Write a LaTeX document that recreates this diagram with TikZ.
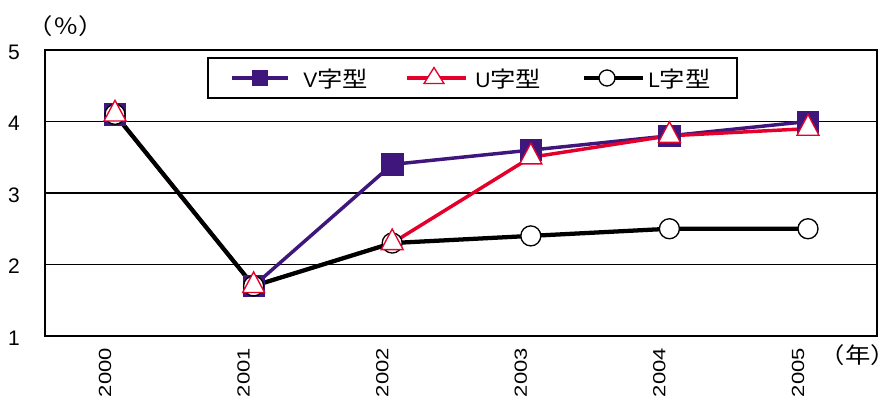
\documentclass[tikz,border=0pt]{standalone}
\usepackage{fontspec}
\setmainfont{Liberation Sans}
\newfontfamily\jpfont[Scale=1.05, FakeStretch=1.15]{Noto Sans CJK JP}
\usetikzlibrary{shapes.geometric, positioning}
\definecolor{vcol}{RGB}{62,22,124}
\definecolor{ucol}{RGB}{228,0,43}
\tikzset{
  lbl/.style={inner sep=0pt, font=\fontsize{15.75}{18}\selectfont},
  vline/.style={draw=vcol, line width=2.6pt, line join=round},
  uline/.style={draw=ucol, line width=2.6pt, line join=round},
  lline/.style={draw=black, line width=3.2pt, line join=round},
  vmark/.style={rectangle, fill=vcol, draw=vcol, minimum size=16pt, inner sep=0pt},
  umark/.style={isosceles triangle, shape border rotate=90, isosceles triangle stretches,
    fill=white, draw=ucol, line width=1pt, minimum width=16.5pt, minimum height=15.5pt, inner sep=0pt},
  lmark/.style={circle, fill=white, draw=black, line width=1pt, minimum size=15pt, inner sep=0pt},
}
\begin{document}
\begin{tikzpicture}[x=0.75pt, y=-0.75pt]
  \useasboundingbox (0,0) rectangle (896,399);

  % Frame and grid
  \draw[line width=1.5pt] (45,50) rectangle (877,336);
  \foreach \g in {2,3,4}
    \draw[line width=0.8pt] (45,{50+(5-\g)*71.5}) -- (877,{50+(5-\g)*71.5});

  % Axis labels
  \foreach \g in {1,...,5}
    \node[lbl] (y\g) at (14,{52+(5-\g)*71.5}) {\g};
  \foreach \i in {0,...,5}
    \node[lbl, font=\fontsize{16.5}{18}\selectfont, rotate=90, anchor=east] (t\i) at ({105+138.6*\i},348) {\scalebox{1}[0.8]{200\i}};
  \node[lbl] (pct) at (66,26) {\jpfont （％）};
  \node[lbl] (nen) at (858,355) {\jpfont （年）};

  % Points
  \foreach \i/\v in {0/4.1,1/1.7,2/3.4,3/3.6,4/3.8,5/4.0}
    \coordinate (v\i) at ({115+138.6*\i},{50+(5-\v)*71.5});
  \foreach \i/\v in {0/4.1,1/1.7,2/2.3,3/3.5,4/3.8,5/3.9}
    \coordinate (u\i) at ({115+138.6*\i},{50+(5-\v)*71.5});
  \foreach \i/\v in {0/4.1,1/1.7,2/2.3,3/2.4,4/2.5,5/2.5}
    \coordinate (l\i) at ({115+138.6*\i},{50+(5-\v)*71.5});

  % Lines
  \draw[vline] (v0) -- (v1) -- (v2) -- (v3) -- (v4) -- (v5);
  \draw[uline] (u0) -- (u1) -- (u2) -- (u3) -- (u4) -- (u5);
  \draw[lline] (l0) -- (l1) -- (l2) -- (l3) -- (l4) -- (l5);

  % Markers
  \foreach \i in {0,...,5}
    \node[vmark] (vm\i) at (v\i) {};
  \foreach \i in {0,...,5}
    \node[lmark] (lm\i) at (l\i) {};
  \foreach \i in {0,...,5}
    \node[umark, anchor=center] (um\i) at (u\i) {};

  % Legend
  \draw[line width=0.8pt] (208,58) rectangle (737,98);
  \coordinate (lva) at (232,78);
  \coordinate (lvb) at (288,78);
  \draw[vline] (lva) -- (lvb);
  \node[vmark, minimum size=11.5pt] (lvm) at (260,78) {};
  \node[lbl, anchor=west] (lvt) at (303,79) {V{\jpfont 字型}};
  \coordinate (lua) at (407,78);
  \coordinate (lub) at (466,78);
  \draw[uline] (lua) -- (lub);
  \node[umark, minimum width=15pt, minimum height=12pt] (lum) at (434,78) {};
  \node[lbl, anchor=west] (lut) at (475,79) {U{\jpfont 字型}};
  \coordinate (lla) at (584,78);
  \coordinate (llb) at (643,78);
  \draw[lline] (lla) -- (llb);
  \node[lmark, minimum size=12pt] (llm) at (607,78) {};
  \node[lbl, anchor=west] (llt) at (648,79) {L{\jpfont 字型}};
\end{tikzpicture}
\end{document}
